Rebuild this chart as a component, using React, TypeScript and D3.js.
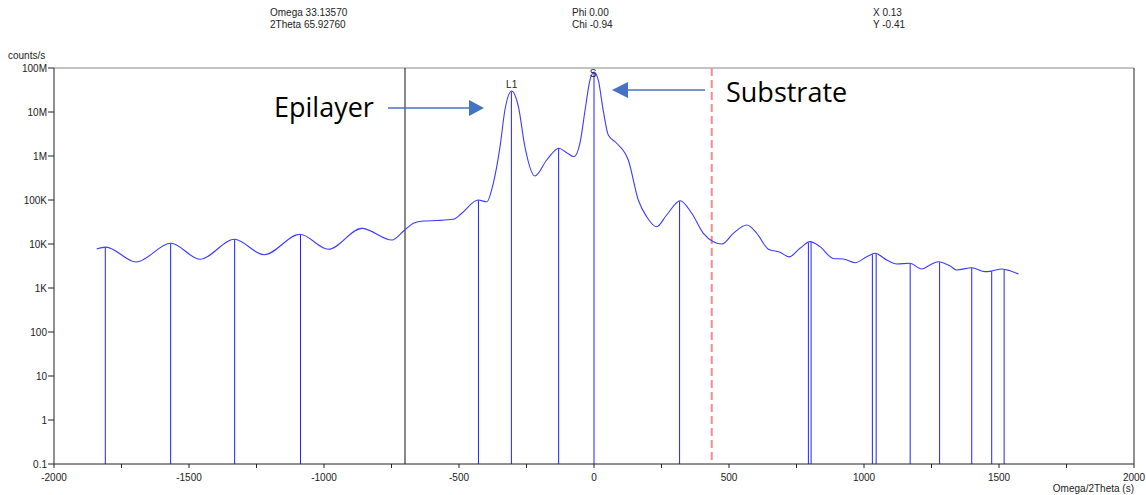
import React from "react";
import * as d3 from "d3";

// scan data: Omega/2Theta (s) vs counts/s
const scanX = [
  -1842, -1808, -1696, -1567, -1459, -1332, -1222, -1089, -984, -860, -748, -703,
  -669, -632, -581, -521, -490, -429, -397, -373, -348, -330, -305, -280, -256,
  -219, -175, -130, -101, -74, -52, -33, -15, 0, 16, 34, 53, 84, 127, 164, 195,
  232, 269, 319, 362, 405, 442, 474, 516, 566, 603, 646, 689, 723, 763, 800, 837,
  886, 923, 967, 1010, 1041, 1084, 1121, 1170, 1214, 1244, 1275, 1319, 1343, 1399,
  1448, 1473, 1510, 1541, 1572,
];
const scanY = [
  7700, 8500, 3900, 10400, 4500, 12800, 5700, 16600, 7600, 22700, 12300, 20300,
  29500, 33300, 34200, 36400, 49900, 100000, 91400, 240000, 1.63e6, 1.11e7, 3.0e7,
  1.32e7, 1.63e6, 351000, 811000, 1.5e6, 1.19e6, 964000, 1.95e6, 1.11e7, 5.3e7,
  8.1e7, 5.3e7, 1.1e7, 3.0e6, 1.95e6, 811000, 100000, 41700, 24700, 45600, 96400,
  49900, 17500, 11300, 10000, 17500, 27000, 17500, 7600, 6500, 5100, 8000, 11300,
  8700, 4700, 4560, 3760, 5140, 6150, 4330, 3510, 3640, 2700, 3330, 3960, 3160,
  2570, 2890, 2350, 2430, 2700, 2470, 2080,
];

// peak search markers
const peakX = [
  -1810, -1568, -1331, -1087, -428, -306, -131, 0, 317, 794, 804, 1031, 1045,
  1171, 1280, 1399, 1473, 1519,
];

const yTicks = [0.1, 1, 10, 100, 1e3, 1e4, 1e5, 1e6, 1e7, 1e8];
const yTickLabels = ["0.1", "1", "10", "100", "1K", "10K", "100K", "1M", "10M", "100M"];
const xTicks = [-2000, -1500, -1000, -500, 0, 500, 1000, 1500, 2000];

const header = [
  ["Omega 33.13570", "2Theta 65.92760"],
  ["Phi 0.00", "Chi -0.94"],
  ["X 0.13", "Y -0.41"],
];
const headerX = [270, 572, 873];

const cursorX = -700;
const refX = 436;

const W = 1146;
const H = 495;
const left = 54;
const right = 1134;
const top = 68;
const bottom = 464;

const font = "'Liberation Sans', Arial, sans-serif";

export default function App() {
  const x = d3.scaleLinear().domain([-2000, 2000]).range([left, right]);
  const y = d3.scaleLog().domain([0.1, 1e8]).range([bottom, top]);

  const pts: [number, number][] = scanX.map((v, i) => [v, scanY[i]]);
  const line = d3
    .line<[number, number]>()
    .x((d) => x(d[0]))
    .y((d) => y(d[1]))
    .curve(d3.curveMonotoneX);

  // height of a marker = scan value at that angle (log interpolation)
  const valueAt = (v: number) => {
    const i = d3.bisectLeft(scanX, v);
    if (i <= 0) return scanY[0];
    if (i >= scanX.length) return scanY[scanY.length - 1];
    const t = (v - scanX[i - 1]) / (scanX[i] - scanX[i - 1]);
    const l = Math.log10(scanY[i - 1]) * (1 - t) + Math.log10(scanY[i]) * t;
    return Math.pow(10, l);
  };

  const minor = d3.range(-2000, 2001, 250);

  return (
    <svg width={W} height={H} style={{ position: "absolute", left: 0, top: 0 }}>
      <rect width={W} height={H} fill="#fff" />

      {/* header */}
      {header.map((rows, i) =>
        rows.map((t, j) => (
          <text
            key={`${i}-${j}`}
            x={headerX[i]}
            y={16 + j * 12}
            fontFamily={font}
            fontSize={10}
            fill="#222"
          >
            {t}
          </text>
        ))
      )}

      {/* frame */}
      <line x1={left} x2={right} y1={top} y2={top} stroke="#888" />
      <line x1={right} x2={right} y1={top} y2={bottom} stroke="#222" />

      {/* peak markers */}
      {peakX.map((p) => (
        <line
          key={p}
          x1={x(p)}
          x2={x(p)}
          y1={bottom}
          y2={y(valueAt(p))}
          stroke="#2222ff"
          strokeWidth={1}
        />
      ))}

      {/* cursor lines */}
      <line x1={x(cursorX)} x2={x(cursorX)} y1={top} y2={bottom} stroke="#111" />
      <line
        x1={x(refX)}
        x2={x(refX)}
        y1={top}
        y2={bottom}
        stroke="#ff8a8a"
        strokeWidth={2}
        strokeDasharray="8 4"
      />

      {/* scan */}
      <path d={line(pts) || ""} fill="none" stroke="#3b3bff" strokeWidth={1.1} />

      {/* axes */}
      <line x1={left} x2={left} y1={top} y2={bottom} stroke="#222" />
      <line x1={left} x2={right} y1={bottom} y2={bottom} stroke="#222" />
      {yTicks.map((t, i) => (
        <g key={t}>
          <line x1={left - 6} x2={left} y1={y(t)} y2={y(t)} stroke="#222" />
          <text
            x={left - 7}
            y={y(t) + 3.6}
            textAnchor="end"
            fontFamily={font}
            fontSize={10}
            fill="#222"
          >
            {yTickLabels[i]}
          </text>
        </g>
      ))}
      {minor.map((t) => (
        <line key={t} x1={x(t)} x2={x(t)} y1={bottom} y2={bottom + 4} stroke="#222" />
      ))}
      {xTicks.map((t) => (
        <text
          key={t}
          x={x(t)}
          y={481}
          textAnchor="middle"
          fontFamily={font}
          fontSize={10}
          fill="#222"
        >
          {t}
        </text>
      ))}
      <text x={8} y={59} fontFamily={font} fontSize={10} fill="#222">
        counts/s
      </text>
      <text x={right} y={492} textAnchor="end" fontFamily={font} fontSize={10} fill="#222">
        Omega/2Theta (s)
      </text>

      {/* peak labels */}
      <text x={x(-305)} y={87.5} textAnchor="middle" fontFamily={font} fontSize={10} fill="#222">
        L1
      </text>
      <text x={x(-3)} y={77} textAnchor="middle" fontFamily={font} fontSize={10} fill="#222">
        S
      </text>

      {/* annotations */}
      <text x={274} y={117} fontFamily="'Open Sans', sans-serif" fontSize={27} fill="#000">
        Epilayer
      </text>
      <line x1={388} x2={470} y1={108} y2={108} stroke="#4472c4" strokeWidth={1.5} />
      <path d="M484,108 L469,100 L469,116 Z" fill="#4472c4" />
      <text x={726} y={102} fontFamily="'Open Sans', sans-serif" fontSize={27} fill="#000">
        Substrate
      </text>
      <line x1={627} x2={705} y1={90} y2={90} stroke="#4472c4" strokeWidth={1.5} />
      <path d="M612,90 L628,82 L628,98 Z" fill="#4472c4" />
    </svg>
  );
}
